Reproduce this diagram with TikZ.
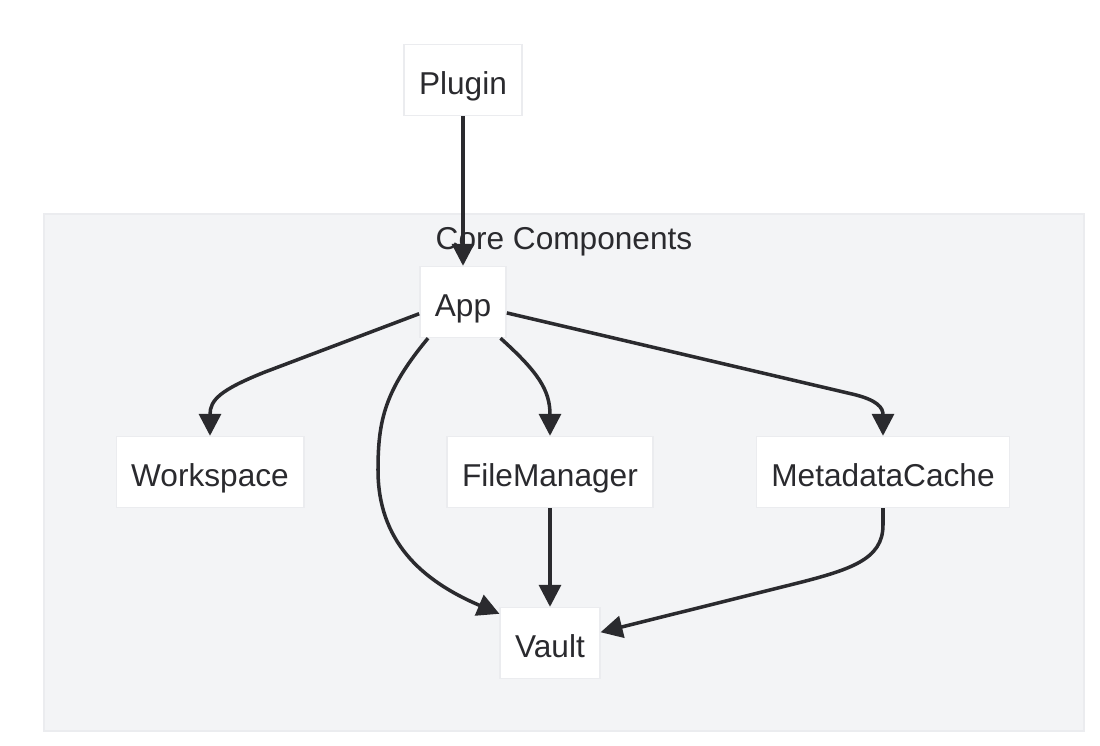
\documentclass[tikz,border=0pt]{standalone}
\usepackage{fontspec}
\setmainfont{Liberation Sans}
\usepackage{tikz}
\usetikzlibrary{arrows.meta}
\definecolor{cink}{HTML}{2a2a2e}
\definecolor{cline}{HTML}{ebecef}
\definecolor{cgroup}{HTML}{f3f4f6}

\begin{document}
\begin{tikzpicture}[
  x=0.02cm,y=-0.02cm,
  box/.style={draw=cline,line width=0.8pt,fill=white,minimum height=1.42cm,
    inner xsep=0.3cm,text height=0.6cm,text depth=0cm,
    font=\fontsize{18}{22}\selectfont,text=cink},
  link/.style={draw=cink,line width=2pt,
    -{Triangle[length=0.44cm,width=0.44cm]}}]
  \useasboundingbox (0,0) rectangle (1100,746);
  % group
  \draw[cline,fill=cgroup,line width=0.8pt] (44,214) rectangle (1084,731);
  \node[font=\fontsize{18}{22}\selectfont,text=cink] (title) at (564,242) {Core Components};
  % nodes
  \node[box] (plugin) at (463,80) {Plugin};
  \node[box] (app) at (463,302) {App};
  \node[box] (work) at (210,472) {Workspace};
  \node[box] (files) at (550,472) {FileManager};
  \node[box] (meta) at (883,472) {MetadataCache};
  \node[box] (vault) at (550,643) {Vault};
  % edges
  \draw[link] (plugin) -- (app);
  \draw[link] (app.195) -- (265,372) .. controls (220,390) and (210,400) .. (work.north);
  \draw[link] (app.226) .. controls (385,390) and (378,420) .. (378,470)
    .. controls (378,540) and (420,580) .. (vault.150);
  \draw[link] (app.316) .. controls (538,372) and (550,390) .. (files.north);
  \draw[link] (app.346) -- (852,394) .. controls (878,400) and (883,408) .. (meta.north);
  \draw[link] (files) -- (vault);
  \draw[link] (meta.south) -- (883,525) .. controls (883,560) and (850,570) .. (790,585)
    -- (vault.12);
\end{tikzpicture}
\end{document}
